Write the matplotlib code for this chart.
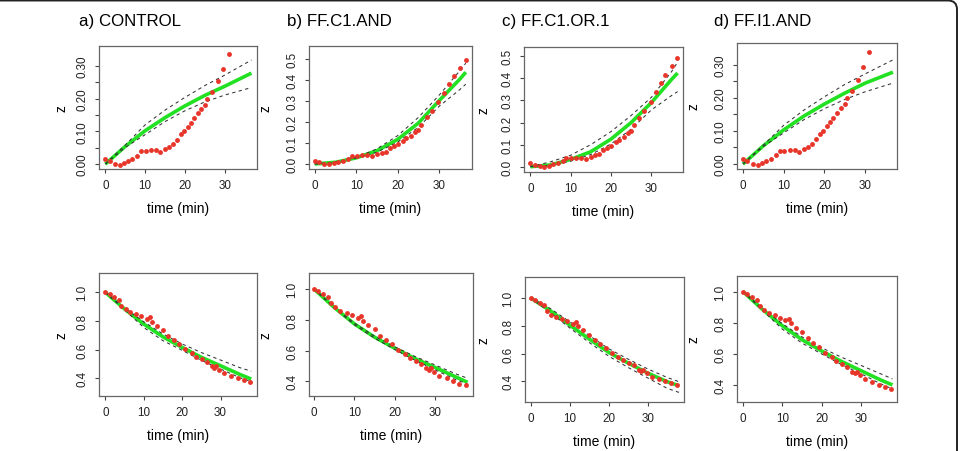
#! /usr/bin/env python3

import matplotlib
matplotlib.use("Agg")
from matplotlib import pyplot as plt
from matplotlib.patches import FancyBboxPatch
from matplotlib.transforms import IdentityTransform

plt.rcParams['font.family'] = ['Liberation Sans', 'DejaVu Sans']

W, H = 961, 452

titles = ["a) CONTROL", "b) FF.C1.AND", "c) FF.C1.OR.1", "d) FF.I1.AND"]

# observed z, top row, panels a and d
t_ctrl = [0, 1.09, 2.34, 3.60, 4.69, 5.69, 6.78, 8.03, 9.04, 10.13, 11.55, 12.80,
          13.81, 14.90, 16.07, 16.99, 17.99, 18.99, 19.75, 20.67, 21.42, 22.18,
          23.18, 24.10, 24.94, 25.61, 26.78, 28.28, 29.54, 31.05]
z_ctrl = [0.016, 0.010, 0.001, -0.002, 0.003, 0.008, 0.015, 0.026, 0.039, 0.040,
          0.043, 0.043, 0.037, 0.046, 0.052, 0.061, 0.075, 0.091, 0.100, 0.114,
          0.127, 0.140, 0.155, 0.169, 0.182, 0.198, 0.221, 0.254, 0.292, 0.337]

# observed z, top row, panels b and c
t_ff = [0, 1.1, 2.3, 3.5, 4.6, 5.6, 6.8, 8.0, 8.9, 10.1, 11.3, 12.5, 13.9, 15.0,
        16.1, 17.1, 18.1, 19.1, 20.1, 21.2, 22.1, 23.2, 24.1, 24.9, 25.7, 27.0,
        28.2, 29.8, 31.2, 32.4, 33.5, 35.0, 36.4]
z_ff = [0.016, 0.008, 0.002, -0.002, 0.003, 0.010, 0.016, 0.025, 0.040, 0.040,
        0.041, 0.041, 0.037, 0.046, 0.052, 0.059, 0.076, 0.086, 0.095, 0.111,
        0.122, 0.135, 0.151, 0.163, 0.187, 0.222, 0.252, 0.294, 0.337, 0.381,
        0.417, 0.457, 0.494]

# observed z, bottom row (all panels)
t_bot = [0, 1.1, 2.3, 3.5, 4.2, 5.3, 6.5, 8.1, 9.4, 10.8, 11.6, 12.2, 13.4, 15.0,
         16.4, 17.8, 19.2, 20.8, 22.5, 23.7, 25.2, 26.5, 27.8, 28.4, 28.9, 29.7,
         31.0, 32.8, 34.5, 36.0, 37.6]
z_bot = [1.0, 0.986, 0.965, 0.947, 0.907, 0.881, 0.86, 0.847, 0.833, 0.814, 0.826,
         0.795, 0.767, 0.737, 0.698, 0.667, 0.64, 0.605, 0.577, 0.551, 0.535, 0.516,
         0.484, 0.474, 0.484, 0.46, 0.435, 0.42, 0.40, 0.386, 0.374]

# model fit (green) and dashed bounds, top row a..d
top_fit_t = [
    [0, 5, 10, 15, 20, 25, 30, 36.7],
    [0, 5, 10, 15, 20, 25, 30, 35, 36.4],
    [0, 5, 10, 15, 20, 25, 30, 35, 36.5],
    [0, 5, 10, 15, 20, 25, 30, 36.8],
]
top_fit = [
    [0, 0.054, 0.102, 0.142, 0.178, 0.210, 0.238, 0.278],
    [0, 0.008, 0.029, 0.063, 0.117, 0.195, 0.302, 0.405, 0.437],
    [0, 0.008, 0.033, 0.068, 0.125, 0.200, 0.290, 0.395, 0.424],
    [0, 0.055, 0.103, 0.145, 0.181, 0.214, 0.244, 0.277],
]
top_hi = [
    [0, 0.058, 0.120, 0.165, 0.204, 0.240, 0.272, 0.318],
    [0, 0.008, 0.031, 0.072, 0.135, 0.222, 0.328, 0.445, 0.480],
    [0, 0.022, 0.052, 0.100, 0.159, 0.232, 0.314, 0.430, 0.473],
    [0, 0.057, 0.117, 0.163, 0.203, 0.240, 0.272, 0.314],
]
top_lo = [
    [0, 0.051, 0.090, 0.130, 0.163, 0.190, 0.211, 0.234],
    [0, 0.008, 0.028, 0.056, 0.104, 0.175, 0.275, 0.355, 0.380],
    [0, 0.006, 0.025, 0.055, 0.103, 0.170, 0.257, 0.322, 0.340],
    [0, 0.053, 0.094, 0.134, 0.167, 0.195, 0.218, 0.244],
]

# model fit and bounds, bottom row a..d
bot_fit_t = [0, 5, 10, 15, 20, 25, 30, 35, 38]
bot_fit = [
    [1.0, 0.884, 0.779, 0.690, 0.616, 0.547, 0.488, 0.428, 0.395],
    [1.0, 0.880, 0.773, 0.687, 0.615, 0.548, 0.490, 0.430, 0.394],
    [1.0, 0.909, 0.806, 0.705, 0.609, 0.532, 0.460, 0.398, 0.369],
    [1.0, 0.884, 0.780, 0.690, 0.617, 0.550, 0.490, 0.430, 0.398],
]
bot_hi = [
    [1.0, 0.890, 0.795, 0.710, 0.640, 0.580, 0.528, 0.475, 0.450],
    [1.0, 0.882, 0.778, 0.693, 0.624, 0.562, 0.506, 0.450, 0.420],
    [1.0, 0.925, 0.830, 0.730, 0.635, 0.560, 0.490, 0.428, 0.398],
    [1.0, 0.890, 0.793, 0.708, 0.638, 0.577, 0.524, 0.470, 0.437],
]
bot_lo = [
    [1.0, 0.878, 0.755, 0.663, 0.596, 0.526, 0.465, 0.405, 0.377],
    [1.0, 0.878, 0.768, 0.680, 0.607, 0.537, 0.475, 0.412, 0.383],
    [1.0, 0.895, 0.785, 0.680, 0.582, 0.500, 0.425, 0.350, 0.321],
    [1.0, 0.878, 0.758, 0.668, 0.598, 0.530, 0.470, 0.405, 0.372],
]

x_ticks = [0, 10, 20, 30]

# layout, pixels: left, right, top, bottom
top_boxes = [(99, 257, 47, 170), (309, 472, 47, 170), (524, 683, 48, 173), (737, 897, 44, 170)]
bot_boxes = [(99, 257, 274, 397), (309, 473, 274, 397), (525, 684, 278, 403), (737, 897, 277, 403)]
top_xlim = [(-1.59, 38.1), (-1.37, 37.9), (-1.57, 37.85), (-1.47, 37.8)]
bot_xlim = [(-1.65, 39.5), (-1.24, 39.35), (-1.45, 39.3), (-1.53, 39.15)]
top_ylim = [(-0.015, 0.361), (-0.024, 0.562), (-0.024, 0.542), (-0.015, 0.365)]
bot_ylim = [(0.277, 1.135), (0.305, 1.104), (0.252, 1.151), (0.288, 1.101)]
zlabel_x = [61, 266, 484, 694]
title_x = [79, 287, 502, 714]

GREEN = "#22e022"
RED = "#e8352a"
AXCOL = "#666666"


def make_axes(fig, box):
    l, r, t, b = box
    return fig.add_axes([l / W, (H - b) / H, (r - l) / W, (b - t) / H])


def style(ax, yticks, ylabels):
    for s in ax.spines.values():
        s.set_color(AXCOL)
        s.set_linewidth(0.9)
    ax.set_xticks(x_ticks)
    ax.set_xticklabels([str(v) for v in x_ticks])
    ax.set_yticks(yticks)
    ax.set_yticklabels(ylabels)
    ax.tick_params(length=3.1, width=0.8, color="#444444", labelsize=8.4,
                   labelcolor="#222222", pad=4.4)
    plt.setp(ax.get_yticklabels(), rotation=90, va="center")


def draw(ax, t_fit, fit, hi, lo, t_obs, z_obs):
    ax.plot(t_fit, fit, color=GREEN, lw=2.6, solid_capstyle="butt", zorder=2)
    ax.plot(t_fit, hi, color="#333333", lw=0.75, dashes=(3.2, 3.2), zorder=3)
    ax.plot(t_fit, lo, color="#333333", lw=0.75, dashes=(3.2, 3.2), zorder=3)
    ax.plot(t_obs, z_obs, "o", color=RED, ms=3.5, mew=0, zorder=4)


def main():
    fig = plt.figure(figsize=(W / 100, H / 100), dpi=100)

    for i in range(4):
        ax = make_axes(fig, top_boxes[i])
        if i in (0, 3):
            t_obs, z_obs = t_ctrl, z_ctrl
            yt = [0, 0.05, 0.10, 0.15, 0.20, 0.25, 0.30]
            yl = [f"{v:.2f}" if k % 2 == 0 else "" for k, v in enumerate(yt)]
        else:
            t_obs, z_obs = t_ff, z_ff
            yt = [0, 0.1, 0.2, 0.3, 0.4, 0.5]
            yl = [f"{v:.1f}" for v in yt]
        draw(ax, top_fit_t[i], top_fit[i], top_hi[i], top_lo[i], t_obs, z_obs)
        ax.set_xlim(*top_xlim[i])
        ax.set_ylim(*top_ylim[i])
        style(ax, yt, yl)

        l, r, t, b = top_boxes[i]
        fig.text(zlabel_x[i] / W, 1 - (t + b) / 2 / H, "z", rotation=90,
                 ha="center", va="center", fontsize=10)
        fig.text((l + r) / 2 / W, 1 - (b + 39) / H, "time (min)",
                 ha="center", va="center", fontsize=10)
        fig.text(title_x[i] / W, 1 - 26 / H, titles[i], ha="left",
                 va="baseline", fontsize=12.2)

    for i in range(4):
        ax = make_axes(fig, bot_boxes[i])
        yt = [0.4, 0.6, 0.8, 1.0]
        draw(ax, bot_fit_t, bot_fit[i], bot_hi[i], bot_lo[i], t_bot, z_bot)
        ax.set_xlim(*bot_xlim[i])
        ax.set_ylim(*bot_ylim[i])
        style(ax, yt, [f"{v:.1f}" for v in yt])

        l, r, t, b = bot_boxes[i]
        fig.text(zlabel_x[i] / W, 1 - (t + b) / 2 / H, "z", rotation=90,
                 ha="center", va="center", fontsize=10)
        fig.text((l + r) / 2 / W, 1 - (b + 39) / H, "time (min)",
                 ha="center", va="center", fontsize=10)

    # outer frame, only top and right edges visible
    frame = FancyBboxPatch((-40, -40), 957 + 40, H - 1.5 + 40,
                           boxstyle="round,pad=0,rounding_size=9",
                           fill=False, ec="#222222", lw=1.4,
                           transform=IdentityTransform())
    fig.add_artist(frame)

    fig.savefig("out.png", dpi=100)


if __name__ == "__main__":
    main()
